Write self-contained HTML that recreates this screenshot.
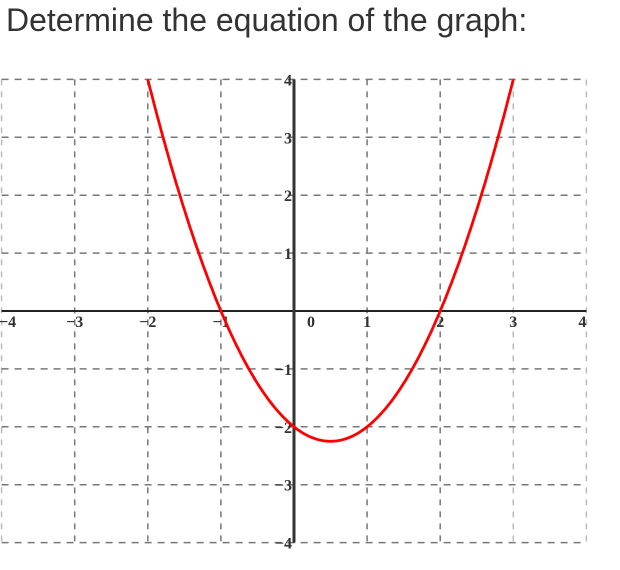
<!DOCTYPE html>
<html><head><meta charset="utf-8"><style>
body{margin:0;width:620px;height:570px;background:#fff;overflow:hidden}
#title{position:absolute;left:6px;top:2px;font:32px "Liberation Sans",sans-serif;color:#333;margin:0;font-weight:normal;white-space:nowrap}
svg{position:absolute;left:0;top:0}
text{font-family:"Liberation Serif",serif;font-size:16px;fill:#333;font-weight:bold}
</style></head><body>
<h1 id="title">Determine the equation of the graph:</h1>
<svg id="chart" width="620" height="570"></svg>
<script>
const xTicks=[-4,-3,-2,-1,0,1,2,3,4];
const yTicks=[-4,-3,-2,-1,1,2,3,4];
const xLabels=["\u22124","\u22123","\u22122","\u22121","0","1","2","3","4"];
const yLabels=["\u22124","\u22123","\u22122","\u22121","1","2","3","4"];
const coefA=[1];const roots=[-1,2];
const ox=294,oy=311,ux=73.1,uy=57.9;
function sx(x){return ox+x*ux}
function sy(y){return oy-y*uy}
const svg=document.getElementById('chart');const NS='http://www.w3.org/2000/svg';
function mk(t,a){const e=document.createElementNS(NS,t);for(const k in a)e.setAttribute(k,a[k]);svg.appendChild(e);return e}
xTicks.forEach((x,i)=>{if(x===0)return;
const l=mk('line',{x1:sx(x),x2:sx(x),y1:sy(4),y2:sy(-4),stroke:(x===-4||x>=3)?'#bbb':'#777','stroke-width':1.5,'stroke-dasharray':'6,6'});

});
yTicks.forEach((y,i)=>{
const l=mk('line',{x1:sx(-4),x2:sx(4),y1:sy(y),y2:sy(y),stroke:'#777','stroke-width':1.5,'stroke-dasharray':'7,6'});

});
const xa=mk('line',{x1:sx(-4),x2:sx(4),y1:oy,y2:oy,stroke:'#222','stroke-width':2});


const ya=mk('line',{x1:ox,x2:ox,y1:sy(4),y2:sy(-4),stroke:'#333','stroke-width':3});


xTicks.forEach((x,i)=>{const t=mk('text',{x:sx(x)+(x===0?17:x===-4?6:x===4?-4:0),y:oy+16,'text-anchor':'middle'});t.textContent=xLabels[i];

});
yTicks.forEach((y,i)=>{const t=mk('text',{x:ox-2,y:sy(y)+6,'text-anchor':'end'});t.textContent=yLabels[i];

});
let d='';const a=coefA[0];
for(let k=0;k<=300;k++){const x=-2+k*5/300;const y=a*(x-roots[0])*(x-roots[1]);if(y>4.05)continue;d+=(d?'L':'M')+sx(x).toFixed(1)+','+sy(y).toFixed(1);}
const p=mk('path',{d:d,fill:'none',stroke:'#f00','stroke-width':2.8});


</script>
</body></html>
